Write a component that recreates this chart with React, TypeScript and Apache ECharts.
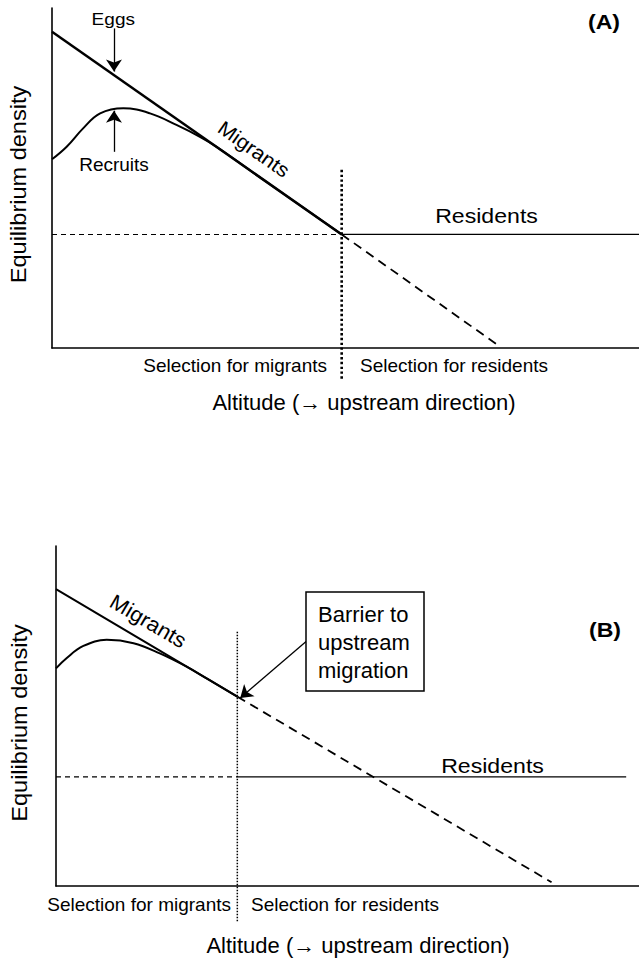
import React, { useEffect, useRef } from "react";
import * as echarts from "echarts";

// ---------- Panel A data (altitude 0-100, density 0-100) ----------
const eggsA = [[0, 93.0], [49.35, 33.4]];
const eggsProjA = [[49.35, 33.4], [76, 0.8]];
const recruitsA = [
  [0, 55.5], [2.5, 59.2], [5.3, 64.6], [8.2, 69.0], [12.15, 70.5], [16.7, 69.0],
  [21.2, 65.6], [25.2, 62.1], [28.1, 59.1], [35, 50.7], [49.35, 33.4],
];
const residentsDashA = [[0, 33.4], [49.35, 33.4]];
const residentsA = [[49.35, 33.4], [100, 33.4]];
const boundaryA = [[49.35, 52.4], [49.35, -9.4]];
const eggsArrowA = [[10.56, 94.0], [10.56, 81.3]];
const recruitsArrowA = [[10.56, 57.7], [10.56, 69.8]];

// ---------- Panel B data ----------
const eggsB = [[0, 87.3], [31.1, 55.7]];
const eggsProjB = [[31.1, 55.7], [85, 1.1]];
const recruitsB = [
  [0, 64.0], [1.8, 67.0], [4.7, 70.6], [8.7, 72.4], [13.3, 71.4], [17.8, 68.4],
  [22.4, 64.5], [26, 60.9], [31.1, 55.7],
];
const residentsDashB = [[0, 32.1], [31.1, 32.1]];
const residentsB = [[31.1, 32.1], [97.8, 32.1]];
const boundaryB = [[31.1, 74.8], [31.1, -10.6]];
const barrierArrowB = [[42.9, 71.9], [31.6, 55.3]];

const FONT = '"Liberation Sans", Arial, Helvetica, "DejaVu Sans", sans-serif';

function txt(
  text: string,
  x: number,
  y: number,
  size: number,
  opts: { align?: string; rotation?: number; scaleX?: number; bold?: boolean } = {}
) {
  const align = opts.align || "center";
  return {
    type: "text",
    x,
    y,
    rotation: opts.rotation || 0,
    scaleX: opts.scaleX || 1,
    silent: true,
    z: 100,
    style: {
      text,
      font: `${opts.bold ? "bold " : ""}${size}px ${FONT}`,
      fill: "#000",
      align,
      textAlign: align,
      verticalAlign: "middle",
      textVerticalAlign: "middle",
    },
  };
}

function lineSeries(data: number[][], idx: number, width: number, type: any, extra: any = {}) {
  return {
    type: "line",
    xAxisIndex: idx,
    yAxisIndex: idx,
    data,
    showSymbol: false,
    symbol: "none",
    silent: true,
    clip: false,
    lineStyle: { color: "#000", width, type },
    ...extra,
  };
}

function arrow(pts: number[][], idx: number) {
  return {
    type: "line",
    xAxisIndex: idx,
    yAxisIndex: idx,
    data: [],
    symbol: "none",
    silent: true,
    markLine: {
      silent: true,
      animation: false,
      symbol: ["none", "arrow"],
      symbolSize: 12,
      label: { show: false },
      lineStyle: { color: "#000", width: 1.3, type: "solid" },
      data: [[{ coord: pts[0] }, { coord: pts[1] }]],
    },
  };
}

const axisCommon = {
  type: "value",
  min: 0,
  max: 100,
  axisLine: { show: true, onZero: false, lineStyle: { color: "#000", width: 1.6 } },
  axisTick: { show: false },
  axisLabel: { show: false },
  splitLine: { show: false },
};

export default function App() {
  const ref = useRef<HTMLDivElement>(null);
  useEffect(() => {
    if (!ref.current) return;
    const chart = echarts.init(ref.current, undefined, { renderer: "svg" });
    chart.setOption({
      animation: false,
      backgroundColor: "#fff",
      grid: [
        { left: 52, top: 8, width: 587, height: 340 },
        { left: 56, top: 546, width: 583, height: 340 },
      ],
      xAxis: [
        { ...axisCommon, gridIndex: 0 },
        { ...axisCommon, gridIndex: 1 },
      ],
      yAxis: [
        { ...axisCommon, gridIndex: 0 },
        { ...axisCommon, gridIndex: 1 },
      ],
      series: [
        // Panel A
        lineSeries(residentsDashA, 0, 1.1, [5, 4]),
        lineSeries(residentsA, 0, 1.3, "solid"),
        lineSeries(eggsProjA, 0, 1.8, [9, 6]),
        lineSeries(boundaryA, 0, 2.6, [2.4, 2.4]),
        lineSeries(recruitsA, 0, 2, "solid", { smooth: 0.4 }),
        lineSeries(eggsA, 0, 2.5, "solid"),
        arrow(eggsArrowA, 0),
        arrow(recruitsArrowA, 0),
        // Panel B
        lineSeries(residentsDashB, 1, 1.1, [5, 4]),
        lineSeries(residentsB, 1, 1.3, "solid"),
        lineSeries(eggsProjB, 1, 1.8, [9, 6]),
        lineSeries(boundaryB, 1, 1.5, [1.5, 1.5]),
        lineSeries(recruitsB, 1, 2, "solid", { smooth: 0.4 }),
        lineSeries(eggsB, 1, 2, "solid"),
        arrow(barrierArrowB, 1),
      ],
      graphic: [
        // Panel A texts
        txt("Eggs", 113.3, 19.5, 17, { scaleX: 1.12 }),
        txt("Recruits", 114, 164, 19),
        txt("Migrants", 254, 149, 20, { rotation: -0.612, scaleX: 1.07 }),
        txt("Residents", 486.5, 215.5, 21, { scaleX: 1.1 }),
        txt("(A)", 604, 22, 21, { bold: true, scaleX: 1.1 }),
        txt("Equilibrium density", 18, 184.5, 22, { rotation: Math.PI / 2, scaleX: 1.07 }),
        txt("Selection for migrants", 327, 365.5, 19, { align: "right" }),
        txt("Selection for residents", 360, 365.5, 19, { align: "left" }),
        txt("Altitude (\u2192 upstream direction)", 364, 402, 22),
        // Panel B texts
        txt("Migrants", 148, 621.5, 21, { rotation: -0.529, scaleX: 1.05 }),
        txt("(B)", 605, 629.5, 21, { bold: true, scaleX: 1.1 }),
        {
          type: "rect",
          silent: true,
          z: 90,
          shape: { x: 306, y: 592, width: 118, height: 99 },
          style: { fill: "#fff", stroke: "#000", lineWidth: 1.5 },
        },
        txt("Barrier to", 318, 614, 22, { align: "left" }),
        txt("upstream", 318, 642, 22, { align: "left" }),
        txt("migration", 318, 670, 22, { align: "left" }),
        txt("Residents", 492.5, 765.5, 21, { scaleX: 1.1 }),
        txt("Equilibrium density", 19, 723, 22, { rotation: Math.PI / 2, scaleX: 1.07 }),
        txt("Selection for migrants", 231, 904.5, 19, { align: "right" }),
        txt("Selection for residents", 251, 904.5, 19, { align: "left" }),
        txt("Altitude (\u2192 upstream direction)", 358, 945.5, 22),
      ],
    });
    return () => chart.dispose();
  }, []);
  return (
    <div
      ref={ref}
      style={{ position: "fixed", left: 0, top: 0, width: 639, height: 962, background: "#fff" }}
    />
  );
}
